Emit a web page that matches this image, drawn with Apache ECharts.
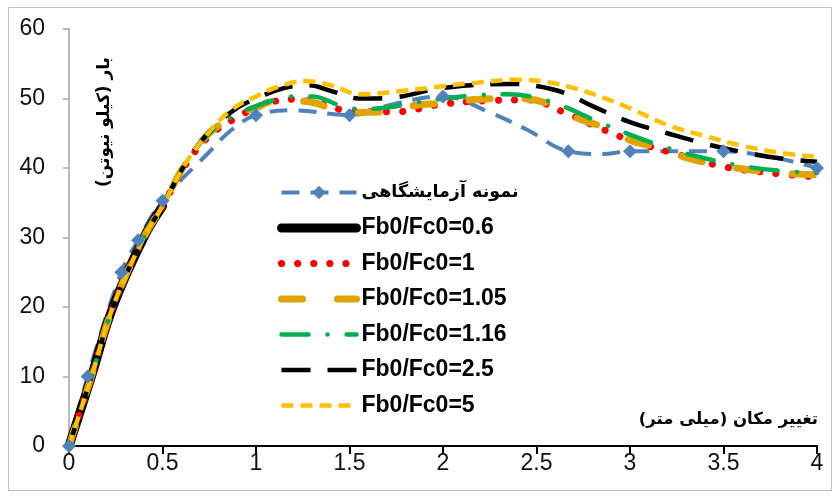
<!DOCTYPE html>
<html><head><meta charset="utf-8">
<script src="https://cdn.jsdelivr.net/npm/echarts@6/dist/echarts.min.js"></script>
<style>html,body{margin:0;padding:0;background:#fff}#c{width:840px;height:497px}</style>
</head><body><div id="c"></div>
<script>
// ---- data ----
const seriesNames = ['نمونه آزمایشگاهی','Fb0/Fc0=0.6','Fb0/Fc0=1','Fb0/Fc0=1.05','Fb0/Fc0=1.16','Fb0/Fc0=2.5','Fb0/Fc0=5'];
const xTicks = [0,0.5,1,1.5,2,2.5,3,3.5,4];
const yTicks = [0,10,20,30,40,50,60];

// experimental: diamonds (measured points) plus curve points read between them
const expX = [0,0.1,0.28,0.37,0.5,0.75,0.87,1.0,1.2,1.5,1.75,2.0,2.25,2.45,2.67,2.85,3.0,3.5,4.0];
const expY = [0,10,25,29.6,35.3,42.3,45.5,47.6,48.3,47.6,49.3,50.3,48.0,45.5,42.4,42.0,42.4,42.4,40];
const expMarked = [1,1,1,1,1,0,0,1,0,1,0,1,0,0,1,0,1,1,1];

const r06X = [0,0.12,0.235,0.4,0.5];
const r06Y = [0,10,20,30,34.5];

const r1X = [0,0.12,0.235,0.4,0.5,0.62,0.75,0.9,1.05,1.2,1.35,1.5,1.75,2.0,2.25,2.45,2.65,2.8,3.0,3.25,3.5,3.75,4.0];
const r1Y = [0,10,20,30,34.5,40.3,44.6,47.3,49.2,49.9,49.2,48.2,48.1,49.2,49.7,49.8,48,46.2,44,42,40.2,39.3,38.7];

const r105X = [0,0.12,0.235,0.4,0.5,0.62,0.75,0.9,1.0,1.1,1.25,1.5,1.7,1.85,2.0,2.2,2.4,2.55,2.7,2.85,3.0,3.15,3.3,3.5,3.75,4.0];
const r105Y = [0,10,20,30,34.5,40.5,45,47.6,48.7,49.6,49.6,48.0,48.1,49.0,49.3,49.9,50.0,49.4,47.4,45.9,44.0,42.9,41.5,40.3,39.4,39.0];

const r116X = [0,0.12,0.235,0.4,0.5,0.62,0.75,0.87,1.0,1.1,1.2,1.3,1.45,1.55,1.7,1.85,2.0,2.2,2.35,2.5,2.65,2.8,3.0,3.2,3.4,3.6,3.8,4.0];
const r116Y = [0,10,20,30,34.5,40.5,45,47.4,48.9,49.8,50.3,50.3,49.0,48.5,48.7,49.4,50.0,50.5,50.6,50.1,48.8,47.0,44.8,42.9,41.4,40.3,39.6,39.3];

const r25X = [0,0.12,0.235,0.4,0.5,0.62,0.75,0.88,1.0,1.15,1.28,1.4,1.55,1.75,1.95,2.15,2.35,2.5,2.65,2.8,3.0,3.2,3.4,3.6,3.8,4.0];
const r25Y = [0,10,20,30,34.5,40.5,45.2,48.3,50.0,51.5,51.9,51.1,50.0,50.2,51.3,51.9,52.1,51.8,50.8,48.9,46.6,45.0,43.5,42.3,41.4,40.9];

const r5X = [0,0.12,0.235,0.4,0.5,0.62,0.75,0.87,1.0,1.13,1.27,1.4,1.56,1.75,1.95,2.15,2.4,2.55,2.7,2.85,3.0,3.2,3.4,3.6,3.8,4.0];
const r5Y = [0,10,20,30,34.5,40.5,45.2,48.4,50.3,51.8,52.5,51.9,50.6,51.0,51.6,52.2,52.7,52.4,51.5,50.2,48.6,46.2,44.6,43.2,42.2,41.6];

const pair = (xs, ys) => xs.map((x, i) => [x, ys[i]]);

const latin = 'Liberation Sans';
const arabic = 'DejaVu Sans';

const expData = expX.map((x, i) => expMarked[i] ? {value: [x, expY[i]]} : {value: [x, expY[i]], symbol: 'none'});

const noSym = {opacity: 0};
const legendData = seriesNames.map((n, i) => i === 0
  ? {name: n, textStyle: {fontSize: 17.5, fontFamily: arabic, fontWeight: 'bold', lineHeight: 23}}
  : {name: n, itemStyle: noSym});

const chart = echarts.init(document.getElementById('c'), null, {renderer: 'canvas'});
chart.setOption({
  animation: false,
  backgroundColor: '#fff',
  grid: {left: 69, right: 23, top: 29, bottom: 51, containLabel: false},
  xAxis: {
    type: 'value', min: 0, max: 4, interval: 0.5,
    axisLine: {show: true, lineStyle: {color: '#000', width: 2}},
    axisTick: {show: true, length: 8, lineStyle: {color: '#000', width: 2}},
    axisLabel: {color: '#111', fontSize: 23, fontFamily: latin, margin: 6,
      formatter: v => xTicks.includes(v) ? String(v) : ''},
    splitLine: {show: false}
  },
  yAxis: {
    type: 'value', min: 0, max: 60, interval: 10,
    axisLine: {show: true, lineStyle: {color: '#A6A6A6', width: 1.5}},
    axisTick: {show: true, length: 6, lineStyle: {color: '#A6A6A6', width: 1.5}},
    axisLabel: {color: '#111', fontSize: 23, fontFamily: latin, margin: 24,
      formatter: v => yTicks.includes(v) ? String(v) : ''},
    splitLine: {show: false}
  },
  legend: {
    orient: 'vertical', left: 272, top: 176,
    itemWidth: 75, itemHeight: 17, itemGap: 12.5,
    textStyle: {fontSize: 23, fontWeight: 'bold', fontFamily: latin, color: '#000', lineHeight: 23},
    lineStyle: {width: 'inherit'},
    data: legendData
  },
  graphic: [
    {type: 'rect', shape: {x: 8.5, y: 7.5, width: 823, height: 483}, style: {fill: 'none', stroke: '#BFBFBF', lineWidth: 1}, silent: true, z: -10},
    {type: 'text', x: 105, y: 122, rotation: Math.PI / 2,
      style: {text: 'بار (کیلو نیوتن)', font: 'bold 17px "DejaVu Sans"', fill: '#000', align: 'center', verticalAlign: 'middle'}},
    {type: 'text', x: 818, y: 420,
      style: {text: 'تغییر مکان (میلی متر)', font: 'bold 16.5px "DejaVu Sans"', fill: '#000', align: 'right', verticalAlign: 'middle'}}
  ],
  series: [
    {name: seriesNames[0], type: 'line', data: expData, smooth: 0.4,
      symbol: 'diamond', symbolSize: 14, showSymbol: true,
      itemStyle: {color: '#4F81BD'},
      lineStyle: {color: '#4F81BD', width: 4, type: [18, 11], cap: 'butt'}},
    {name: seriesNames[1], type: 'line', data: pair(r06X, r06Y), smooth: 0.4, symbol: 'none',
      itemStyle: {color: '#000'},
      lineStyle: {color: '#000', width: 9, cap: 'round'}},
    {name: seriesNames[2], type: 'line', data: pair(r1X, r1Y), smooth: 0.4, symbol: 'none',
      itemStyle: {color: '#FF0000'},
      lineStyle: {color: '#FF0000', width: 7, type: [0.1, 16], cap: 'round'}},
    {name: seriesNames[3], type: 'line', data: pair(r105X, r105Y), smooth: 0.4, symbol: 'none',
      itemStyle: {color: '#E0A300'},
      lineStyle: {color: '#E0A300', width: 7, type: [21, 35], cap: 'round'}},
    {name: seriesNames[4], type: 'line', data: pair(r116X, r116Y), smooth: 0.4, symbol: 'none',
      itemStyle: {color: '#00B050'},
      lineStyle: {color: '#00B050', width: 4.5, type: [27, 19, 0.1, 19], cap: 'round'}},
    {name: seriesNames[5], type: 'line', data: pair(r25X, r25Y), smooth: 0.4, symbol: 'none',
      itemStyle: {color: '#000'},
      lineStyle: {color: '#000', width: 4.5, type: [29, 17], cap: 'butt'}},
    {name: seriesNames[6], type: 'line', data: pair(r5X, r5Y), smooth: 0.4, symbol: 'none',
      itemStyle: {color: '#FFC000'},
      lineStyle: {color: '#FFC000', width: 4.5, type: [12, 7], cap: 'butt'}}
  ]
});
</script></body></html>
